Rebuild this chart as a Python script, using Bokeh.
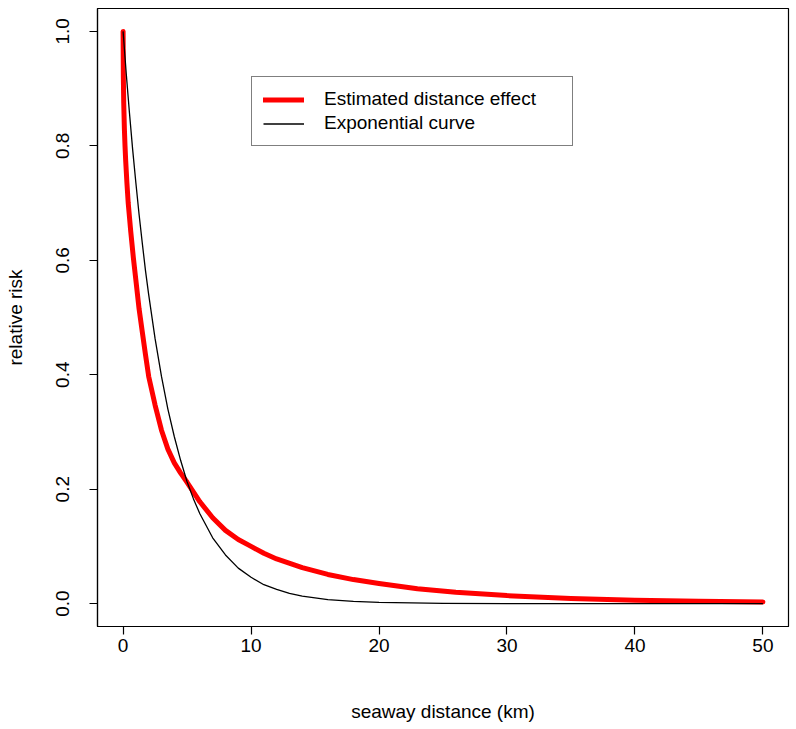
from bokeh.plotting import figure
from bokeh.models import FixedTicker, Legend, LegendItem, Range1d
from bokeh.embed import file_html
from bokeh.resources import INLINE

# ---- data ----
x_ticks = [0, 10, 20, 30, 40, 50]
y_ticks = [0.0, 0.2, 0.4, 0.6, 0.8, 1.0]
y_tick_labels = ["0.0", "0.2", "0.4", "0.6", "0.8", "1.0"]

est_dist = [0, 0.02, 0.05, 0.1, 0.15, 0.2, 0.3, 0.4, 0.5, 0.6, 0.8, 1.0, 1.25, 1.5,
            1.75, 2.0, 2.5, 3.0, 3.5, 4.0, 4.5, 5.0, 6, 7, 8, 9, 10, 11, 12, 14,
            16, 18, 20, 23, 26, 30, 35, 40, 45, 50]
est_risk = [1.0, 0.92, 0.875, 0.83, 0.80, 0.775, 0.735, 0.70, 0.675, 0.65, 0.605,
            0.565, 0.515, 0.475, 0.435, 0.397, 0.347, 0.303, 0.270, 0.246, 0.228,
            0.212, 0.178, 0.150, 0.128, 0.112, 0.100, 0.088, 0.078, 0.063, 0.051,
            0.042, 0.035, 0.026, 0.020, 0.014, 0.009, 0.006, 0.0042, 0.003]

exp_dist = [0, 0.1, 0.25, 0.5, 0.75, 1, 1.25, 1.5, 1.75, 2, 2.5, 3, 3.5, 4, 4.5, 5,
            5.5, 6, 7, 8, 9, 10, 11, 12, 13, 14, 16, 18, 20, 25, 30, 40, 50]
exp_risk = [1.0, 0.97, 0.925, 0.857, 0.793, 0.735, 0.68, 0.63, 0.582, 0.54, 0.463,
            0.397, 0.34, 0.292, 0.25, 0.213, 0.183, 0.157, 0.115, 0.085, 0.062,
            0.046, 0.033, 0.025, 0.018, 0.013, 0.007, 0.004, 0.002, 0.0005, 0.0001,
            0.0, 0.0]

FONT = "Liberation Sans"
FS = "19px"

p = figure(width=790, height=724, output_backend="svg", toolbar_location=None,
           x_range=Range1d(-2, 52), y_range=Range1d(-0.04, 1.04),
           min_border_left=97, min_border_right=2, min_border_top=8,
           min_border_bottom=97)
p.background_fill_color = "white"
p.border_fill_color = "white"
p.outline_line_color = "black"
p.outline_line_width = 1.2
p.grid.visible = False

r_est = p.line(est_dist, est_risk, line_color="#FF0000", line_width=5,
               line_cap="round", line_join="round")
r_exp = p.line(exp_dist, exp_risk, line_color="black", line_width=1.3,
               line_join="round")

for ax in (p.xaxis[0], p.yaxis[0]):
    ax.axis_line_color = "black"
    ax.axis_line_width = 1.2
    ax.major_tick_line_color = "black"
    ax.major_tick_line_width = 1.2
    ax.major_tick_out = 8
    ax.major_tick_in = 0
    ax.minor_tick_line_color = None
    ax.major_label_text_font = FONT
    ax.major_label_text_font_size = FS
    ax.major_label_text_color = "black"
    ax.axis_label_text_font = FONT
    ax.axis_label_text_font_size = FS
    ax.axis_label_text_font_style = "normal"
    ax.axis_label_text_color = "black"

p.xaxis[0].ticker = FixedTicker(ticks=x_ticks)
p.xaxis[0].axis_label = "seaway distance (km)"
p.xaxis[0].major_label_standoff = 4
p.xaxis[0].axis_label_standoff = 46

p.yaxis[0].ticker = FixedTicker(ticks=y_ticks)
p.yaxis[0].major_label_overrides = {t: s for t, s in zip(y_ticks, y_tick_labels)}
p.yaxis[0].major_label_orientation = "parallel"
p.yaxis[0].major_label_text_align = "center"
p.yaxis[0].major_label_text_baseline = "bottom"
p.yaxis[0].axis_label = "relative risk"
p.yaxis[0].major_label_standoff = 20
p.yaxis[0].axis_label_standoff = 28

legend = Legend(items=[LegendItem(label="Estimated distance effect", renderers=[r_est]),
                       LegendItem(label="Exponential curve", renderers=[r_exp])],
                location=(154, 480))
legend.label_text_font = FONT
legend.label_text_font_size = FS
legend.label_text_color = "black"
legend.border_line_color = "black"
legend.border_line_width = 1.2
legend.background_fill_alpha = 1.0
legend.padding = 11
legend.spacing = 2
legend.margin = 0
legend.label_height = 19
legend.glyph_height = 19
legend.glyph_width = 41
legend.label_standoff = 20
legend.label_width = 237
p.add_layout(legend)

open("out.html", "w").write(file_html(p, INLINE))
